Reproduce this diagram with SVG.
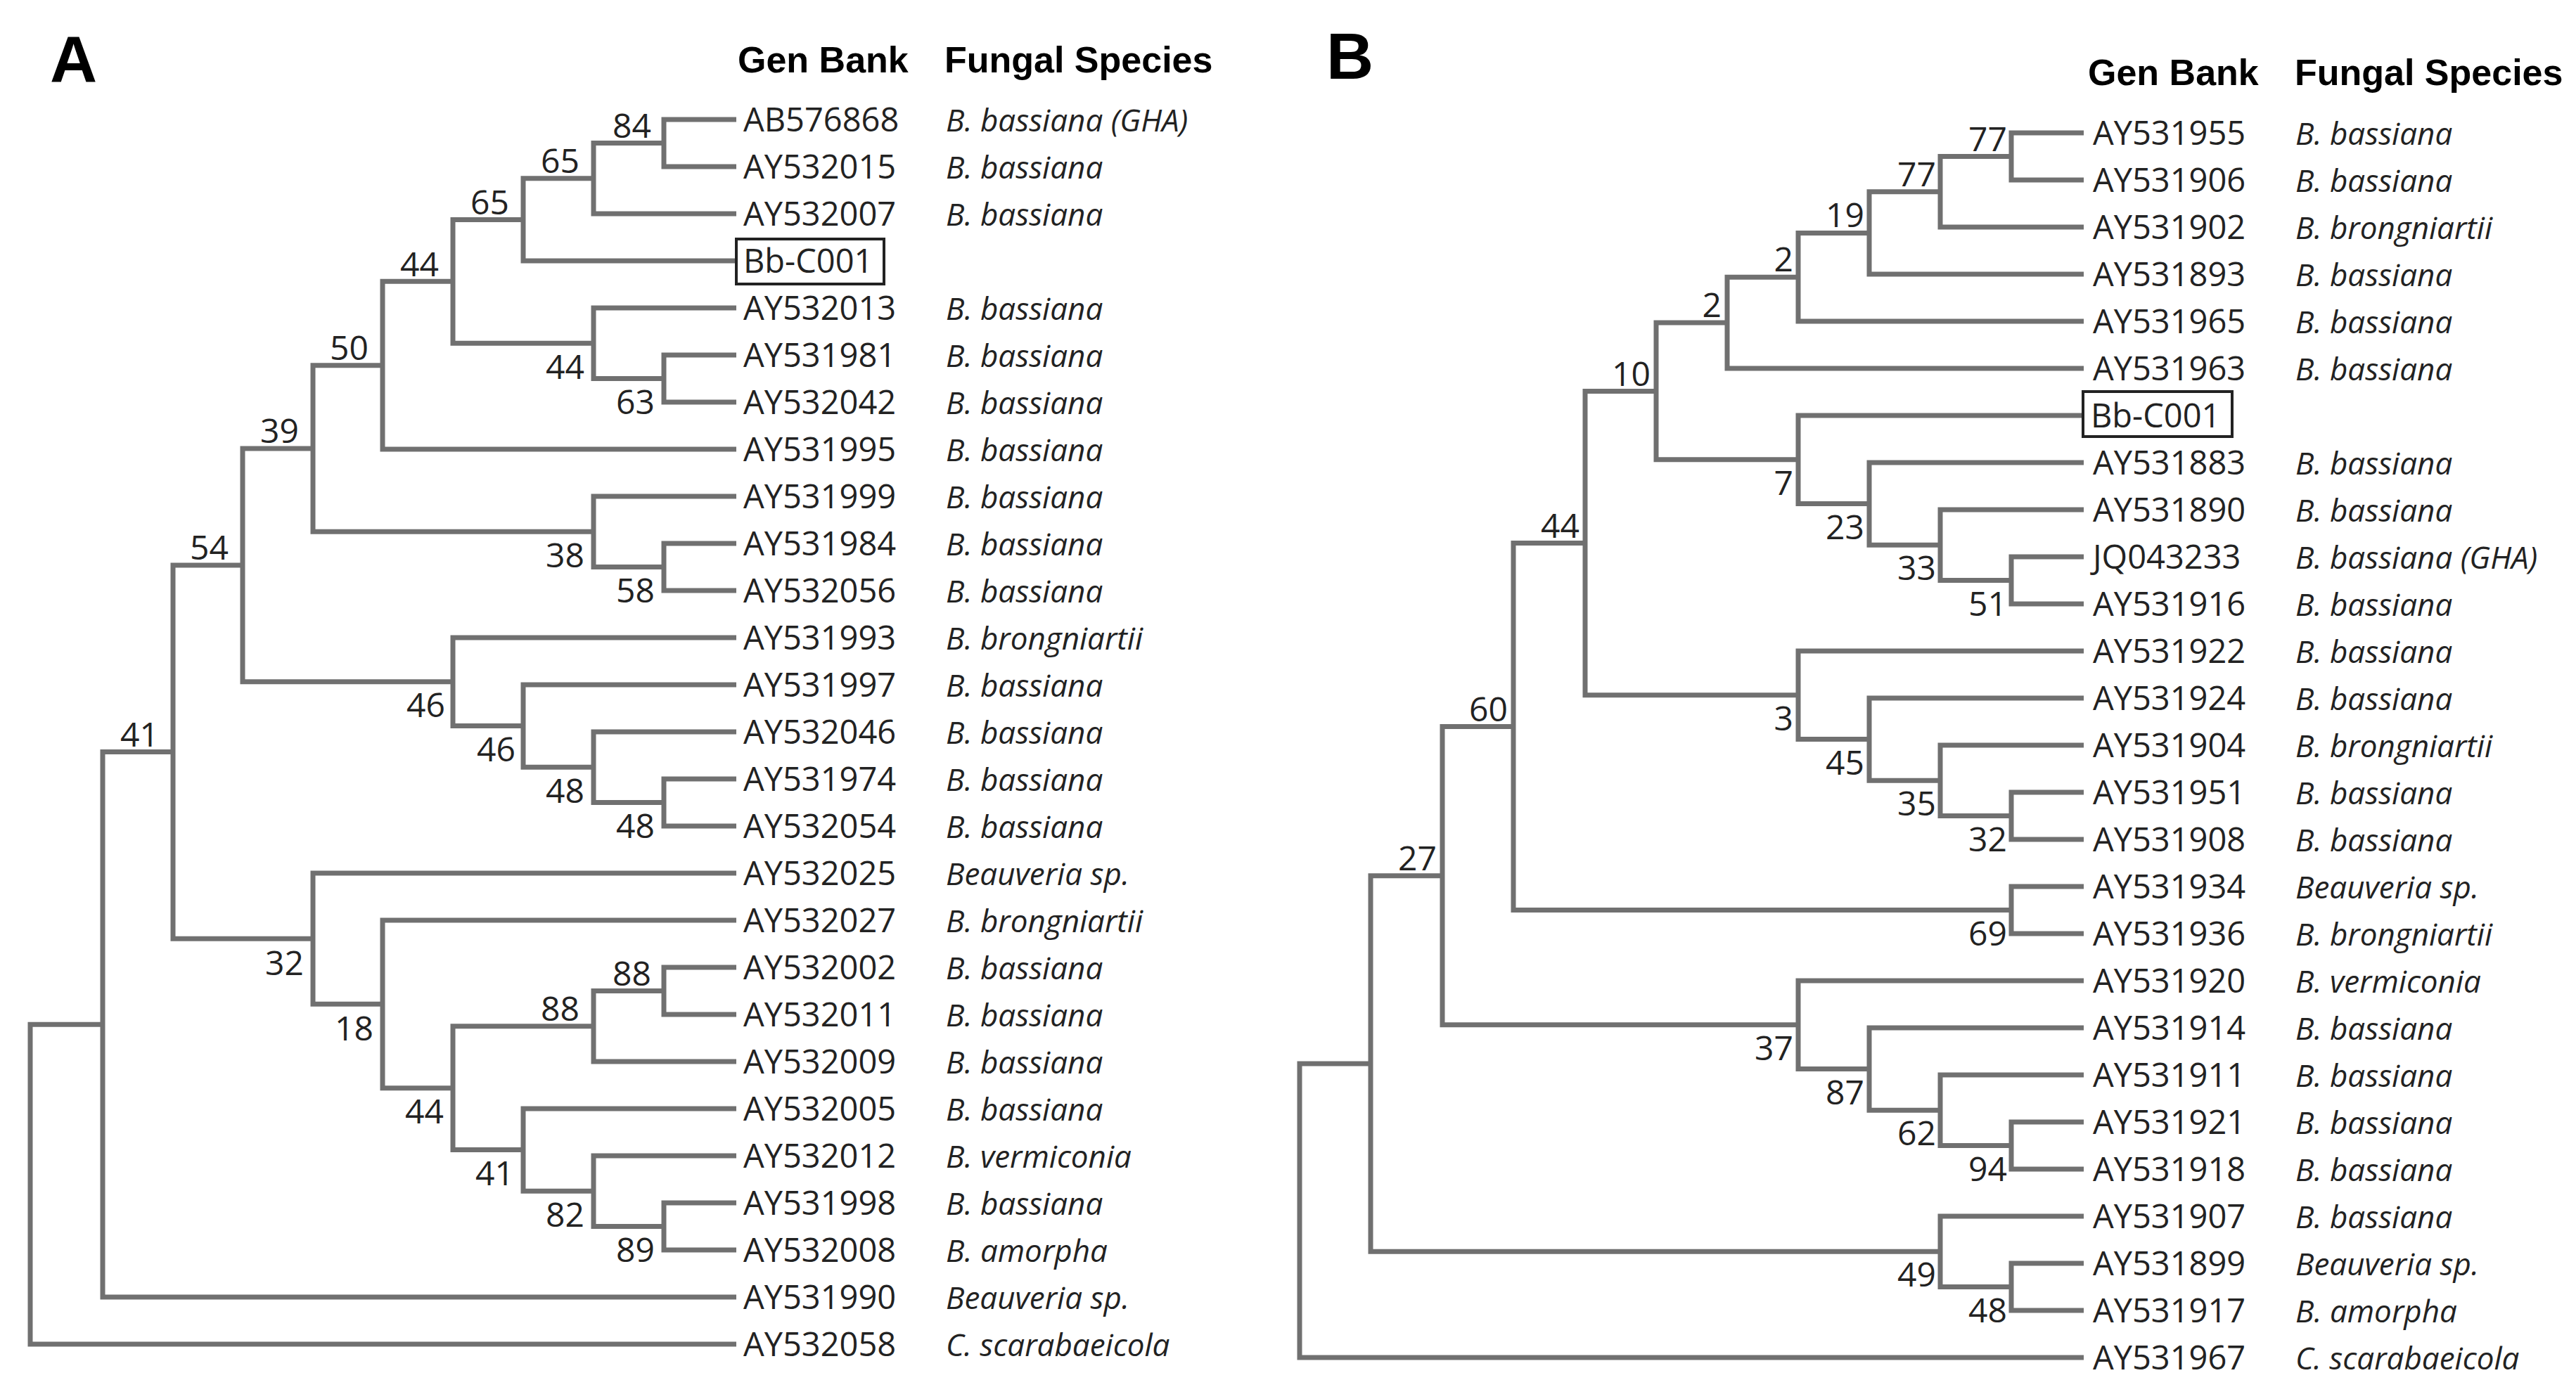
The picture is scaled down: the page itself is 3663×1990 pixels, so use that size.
<svg xmlns="http://www.w3.org/2000/svg" width="3663" height="1990" viewBox="0 0 3663 1990">
<style>
.br{fill:none;stroke:#707070;stroke-width:7;stroke-linejoin:miter;stroke-linecap:butt}
.acc{font-family:"Open Sans","Noto Sans","Liberation Sans",sans-serif;font-size:47px;fill:#222}
.sp{font-family:"Open Sans","Noto Sans","Liberation Sans",sans-serif;font-size:44px;font-style:italic;fill:#222}
.bs{font-family:"Open Sans","Noto Sans","Liberation Sans",sans-serif;font-size:48px;fill:#222;text-anchor:end}
.hd{font-family:"Liberation Sans",Arial,sans-serif;font-size:52px;font-weight:bold;fill:#000}
.pl{font-family:"Liberation Sans",Arial,sans-serif;font-size:93px;font-weight:bold;fill:#000}
.box{fill:none;stroke:#222;stroke-width:4}
</style>
<rect width="3663" height="1990" fill="#fff"/>
<text class="pl" x="71" y="116">A</text>
<text class="pl" x="1886" y="112">B</text>
<text class="hd" x="1049" y="103">Gen Bank</text>
<text class="hd" x="1343" y="103">Fungal Species</text>
<text class="hd" x="2969" y="121">Gen Bank</text>
<text class="hd" x="3263" y="121">Fungal Species</text>

<g id="connectors">
<g id="treeA-branches">
<path class="br" d="M1047 170 H944 V237 H1047"/>
<path class="br" d="M944 203.5 H844 V304 H1047"/>
<path class="br" d="M844 253.75 H744 V371 H1047"/>
<path class="br" d="M1047 505 H944 V572 H1047"/>
<path class="br" d="M1047 438 H844 V538.5 H944"/>
<path class="br" d="M744 312.4 H644 V488.25 H844"/>
<path class="br" d="M644 400.3 H544 V639 H1047"/>
<path class="br" d="M1047 773 H944 V840 H1047"/>
<path class="br" d="M1047 706 H844 V806.5 H944"/>
<path class="br" d="M544 519.7 H445 V756.25 H844"/>
<path class="br" d="M1047 1108 H944 V1175 H1047"/>
<path class="br" d="M1047 1041 H844 V1141.5 H944"/>
<path class="br" d="M1047 974 H744 V1091.25 H844"/>
<path class="br" d="M1047 907 H644 V1032.6 H744"/>
<path class="br" d="M445 638 H345 V969.8 H644"/>
<path class="br" d="M1047 1376 H944 V1443 H1047"/>
<path class="br" d="M944 1409.5 H844 V1510 H1047"/>
<path class="br" d="M1047 1711 H944 V1778 H1047"/>
<path class="br" d="M1047 1644 H844 V1744.5 H944"/>
<path class="br" d="M1047 1577 H744 V1694.25 H844"/>
<path class="br" d="M844 1459.75 H644 V1635.6 H744"/>
<path class="br" d="M1047 1309 H544 V1547.7 H644"/>
<path class="br" d="M1047 1242 H445 V1428.3 H544"/>
<path class="br" d="M345 803.9 H246 V1335.2 H445"/>
<path class="br" d="M246 1069.5 H146 V1845 H1047"/>
<path class="br" d="M146 1457.3 H43 V1912 H1047"/>
</g>
<g id="treeB-branches">
<path class="br" d="M2963 189 H2860 V256 H2963"/>
<path class="br" d="M2860 222.5 H2759 V323 H2963"/>
<path class="br" d="M2759 272.75 H2658 V390 H2963"/>
<path class="br" d="M2658 331.4 H2557 V457 H2963"/>
<path class="br" d="M2557 394.2 H2456 V524 H2963"/>
<path class="br" d="M2963 792 H2860 V859 H2963"/>
<path class="br" d="M2963 725 H2759 V825.5 H2860"/>
<path class="br" d="M2963 658 H2658 V775.25 H2759"/>
<path class="br" d="M2962 591 H2557 V716.6 H2658"/>
<path class="br" d="M2456 459.1 H2355 V653.8 H2557"/>
<path class="br" d="M2963 1127 H2860 V1194 H2963"/>
<path class="br" d="M2963 1060 H2759 V1160.5 H2860"/>
<path class="br" d="M2963 993 H2658 V1110.25 H2759"/>
<path class="br" d="M2963 926 H2557 V1051.6 H2658"/>
<path class="br" d="M2355 556.5 H2254 V988.8 H2557"/>
<path class="br" d="M2963 1261 H2860 V1328 H2963"/>
<path class="br" d="M2254 772.6 H2152 V1294.5 H2860"/>
<path class="br" d="M2963 1596 H2860 V1663 H2963"/>
<path class="br" d="M2963 1529 H2759 V1629.5 H2860"/>
<path class="br" d="M2963 1462 H2658 V1579.25 H2759"/>
<path class="br" d="M2963 1395 H2557 V1520.6 H2658"/>
<path class="br" d="M2152 1033.6 H2051 V1457.8 H2557"/>
<path class="br" d="M2963 1797 H2860 V1864 H2963"/>
<path class="br" d="M2963 1730 H2759 V1830.5 H2860"/>
<path class="br" d="M2051 1245.7 H1949 V1780.25 H2759"/>
<path class="br" d="M1949 1513 H1848 V1931 H2963"/>
</g>
</g>

<g id="bootstrapA">
<text class="bs" x="926" y="196">84</text>
<text class="bs" x="824" y="246">65</text>
<text class="bs" x="724" y="305">65</text>
<text class="bs" x="624" y="393">44</text>
<text class="bs" x="524" y="512">50</text>
<text class="bs" x="425" y="630">39</text>
<text class="bs" x="325" y="796">54</text>
<text class="bs" x="226" y="1062">41</text>
<text class="bs" x="824" y="1452">88</text>
<text class="bs" x="926" y="1402">88</text>
<text class="bs" x="831" y="539">44</text>
<text class="bs" x="931" y="589">63</text>
<text class="bs" x="831" y="807">38</text>
<text class="bs" x="931" y="857">58</text>
<text class="bs" x="633" y="1020">46</text>
<text class="bs" x="733" y="1083">46</text>
<text class="bs" x="831" y="1142">48</text>
<text class="bs" x="931" y="1192">48</text>
<text class="bs" x="432" y="1387">32</text>
<text class="bs" x="531" y="1480">18</text>
<text class="bs" x="631" y="1598">44</text>
<text class="bs" x="731" y="1686">41</text>
<text class="bs" x="831" y="1745">82</text>
<text class="bs" x="931" y="1795">89</text>
</g>
<g id="bootstrapB">
<text class="bs" x="2854" y="214.5">77</text>
<text class="bs" x="2753" y="264.75">77</text>
<text class="bs" x="2651" y="323.4">19</text>
<text class="bs" x="2550" y="386.2">2</text>
<text class="bs" x="2448" y="451.1">2</text>
<text class="bs" x="2347" y="548.5">10</text>
<text class="bs" x="2246" y="764.6">44</text>
<text class="bs" x="2144" y="1025.6">60</text>
<text class="bs" x="2043" y="1237.7">27</text>
<text class="bs" x="2550" y="703.8">7</text>
<text class="bs" x="2651" y="766.6">23</text>
<text class="bs" x="2753" y="825.25">33</text>
<text class="bs" x="2854" y="875.5">51</text>
<text class="bs" x="2550" y="1038.8">3</text>
<text class="bs" x="2651" y="1101.6">45</text>
<text class="bs" x="2753" y="1160.25">35</text>
<text class="bs" x="2854" y="1210.5">32</text>
<text class="bs" x="2854" y="1344.5">69</text>
<text class="bs" x="2550" y="1507.8">37</text>
<text class="bs" x="2651" y="1570.6">87</text>
<text class="bs" x="2753" y="1629.25">62</text>
<text class="bs" x="2854" y="1679.5">94</text>
<text class="bs" x="2753" y="1830.25">49</text>
<text class="bs" x="2854" y="1880.5">48</text>
</g>

<g id="leavesA">
<g id="A-AB576868"><text class="acc" x="1057" y="187">AB576868</text><text class="sp" x="1345" y="187">B. bassiana (GHA)</text></g>
<g id="A-AY532015"><text class="acc" x="1057" y="254">AY532015</text><text class="sp" x="1345" y="254">B. bassiana</text></g>
<g id="A-AY532007"><text class="acc" x="1057" y="321">AY532007</text><text class="sp" x="1345" y="321">B. bassiana</text></g>
<g id="A-BbC001"><rect class="box" x="1047" y="340" width="210" height="64"/><text class="acc" x="1057" y="388">Bb-C001</text></g>
<g id="A-AY532013"><text class="acc" x="1057" y="455">AY532013</text><text class="sp" x="1345" y="455">B. bassiana</text></g>
<g id="A-AY531981"><text class="acc" x="1057" y="522">AY531981</text><text class="sp" x="1345" y="522">B. bassiana</text></g>
<g id="A-AY532042"><text class="acc" x="1057" y="589">AY532042</text><text class="sp" x="1345" y="589">B. bassiana</text></g>
<g id="A-AY531995"><text class="acc" x="1057" y="656">AY531995</text><text class="sp" x="1345" y="656">B. bassiana</text></g>
<g id="A-AY531999"><text class="acc" x="1057" y="723">AY531999</text><text class="sp" x="1345" y="723">B. bassiana</text></g>
<g id="A-AY531984"><text class="acc" x="1057" y="790">AY531984</text><text class="sp" x="1345" y="790">B. bassiana</text></g>
<g id="A-AY532056"><text class="acc" x="1057" y="857">AY532056</text><text class="sp" x="1345" y="857">B. bassiana</text></g>
<g id="A-AY531993"><text class="acc" x="1057" y="924">AY531993</text><text class="sp" x="1345" y="924">B. brongniartii</text></g>
<g id="A-AY531997"><text class="acc" x="1057" y="991">AY531997</text><text class="sp" x="1345" y="991">B. bassiana</text></g>
<g id="A-AY532046"><text class="acc" x="1057" y="1058">AY532046</text><text class="sp" x="1345" y="1058">B. bassiana</text></g>
<g id="A-AY531974"><text class="acc" x="1057" y="1125">AY531974</text><text class="sp" x="1345" y="1125">B. bassiana</text></g>
<g id="A-AY532054"><text class="acc" x="1057" y="1192">AY532054</text><text class="sp" x="1345" y="1192">B. bassiana</text></g>
<g id="A-AY532025"><text class="acc" x="1057" y="1259">AY532025</text><text class="sp" x="1345" y="1259">Beauveria sp.</text></g>
<g id="A-AY532027"><text class="acc" x="1057" y="1326">AY532027</text><text class="sp" x="1345" y="1326">B. brongniartii</text></g>
<g id="A-AY532002"><text class="acc" x="1057" y="1393">AY532002</text><text class="sp" x="1345" y="1393">B. bassiana</text></g>
<g id="A-AY532011"><text class="acc" x="1057" y="1460">AY532011</text><text class="sp" x="1345" y="1460">B. bassiana</text></g>
<g id="A-AY532009"><text class="acc" x="1057" y="1527">AY532009</text><text class="sp" x="1345" y="1527">B. bassiana</text></g>
<g id="A-AY532005"><text class="acc" x="1057" y="1594">AY532005</text><text class="sp" x="1345" y="1594">B. bassiana</text></g>
<g id="A-AY532012"><text class="acc" x="1057" y="1661">AY532012</text><text class="sp" x="1345" y="1661">B. vermiconia</text></g>
<g id="A-AY531998"><text class="acc" x="1057" y="1728">AY531998</text><text class="sp" x="1345" y="1728">B. bassiana</text></g>
<g id="A-AY532008"><text class="acc" x="1057" y="1795">AY532008</text><text class="sp" x="1345" y="1795">B. amorpha</text></g>
<g id="A-AY531990"><text class="acc" x="1057" y="1862">AY531990</text><text class="sp" x="1345" y="1862">Beauveria sp.</text></g>
<g id="A-AY532058"><text class="acc" x="1057" y="1929">AY532058</text><text class="sp" x="1345" y="1929">C. scarabaeicola</text></g>
</g>

<g id="leavesB">
<g id="B-AY531955"><text class="acc" x="2976" y="206">AY531955</text><text class="sp" x="3264" y="206">B. bassiana</text></g>
<g id="B-AY531906"><text class="acc" x="2976" y="273">AY531906</text><text class="sp" x="3264" y="273">B. bassiana</text></g>
<g id="B-AY531902"><text class="acc" x="2976" y="340">AY531902</text><text class="sp" x="3264" y="340">B. brongniartii</text></g>
<g id="B-AY531893"><text class="acc" x="2976" y="407">AY531893</text><text class="sp" x="3264" y="407">B. bassiana</text></g>
<g id="B-AY531965"><text class="acc" x="2976" y="474">AY531965</text><text class="sp" x="3264" y="474">B. bassiana</text></g>
<g id="B-AY531963"><text class="acc" x="2976" y="541">AY531963</text><text class="sp" x="3264" y="541">B. bassiana</text></g>
<g id="B-BbC001"><rect class="box" x="2962" y="557" width="212" height="64"/><text class="acc" x="2973" y="608">Bb-C001</text></g>
<g id="B-AY531883"><text class="acc" x="2976" y="675">AY531883</text><text class="sp" x="3264" y="675">B. bassiana</text></g>
<g id="B-AY531890"><text class="acc" x="2976" y="742">AY531890</text><text class="sp" x="3264" y="742">B. bassiana</text></g>
<g id="B-JQ043233"><text class="acc" x="2976" y="809">JQ043233</text><text class="sp" x="3264" y="809">B. bassiana (GHA)</text></g>
<g id="B-AY531916"><text class="acc" x="2976" y="876">AY531916</text><text class="sp" x="3264" y="876">B. bassiana</text></g>
<g id="B-AY531922"><text class="acc" x="2976" y="943">AY531922</text><text class="sp" x="3264" y="943">B. bassiana</text></g>
<g id="B-AY531924"><text class="acc" x="2976" y="1010">AY531924</text><text class="sp" x="3264" y="1010">B. bassiana</text></g>
<g id="B-AY531904"><text class="acc" x="2976" y="1077">AY531904</text><text class="sp" x="3264" y="1077">B. brongniartii</text></g>
<g id="B-AY531951"><text class="acc" x="2976" y="1144">AY531951</text><text class="sp" x="3264" y="1144">B. bassiana</text></g>
<g id="B-AY531908"><text class="acc" x="2976" y="1211">AY531908</text><text class="sp" x="3264" y="1211">B. bassiana</text></g>
<g id="B-AY531934"><text class="acc" x="2976" y="1278">AY531934</text><text class="sp" x="3264" y="1278">Beauveria sp.</text></g>
<g id="B-AY531936"><text class="acc" x="2976" y="1345">AY531936</text><text class="sp" x="3264" y="1345">B. brongniartii</text></g>
<g id="B-AY531920"><text class="acc" x="2976" y="1412">AY531920</text><text class="sp" x="3264" y="1412">B. vermiconia</text></g>
<g id="B-AY531914"><text class="acc" x="2976" y="1479">AY531914</text><text class="sp" x="3264" y="1479">B. bassiana</text></g>
<g id="B-AY531911"><text class="acc" x="2976" y="1546">AY531911</text><text class="sp" x="3264" y="1546">B. bassiana</text></g>
<g id="B-AY531921"><text class="acc" x="2976" y="1613">AY531921</text><text class="sp" x="3264" y="1613">B. bassiana</text></g>
<g id="B-AY531918"><text class="acc" x="2976" y="1680">AY531918</text><text class="sp" x="3264" y="1680">B. bassiana</text></g>
<g id="B-AY531907"><text class="acc" x="2976" y="1747">AY531907</text><text class="sp" x="3264" y="1747">B. bassiana</text></g>
<g id="B-AY531899"><text class="acc" x="2976" y="1814">AY531899</text><text class="sp" x="3264" y="1814">Beauveria sp.</text></g>
<g id="B-AY531917"><text class="acc" x="2976" y="1881">AY531917</text><text class="sp" x="3264" y="1881">B. amorpha</text></g>
<g id="B-AY531967"><text class="acc" x="2976" y="1948">AY531967</text><text class="sp" x="3264" y="1948">C. scarabaeicola</text></g>
</g>
</svg>
